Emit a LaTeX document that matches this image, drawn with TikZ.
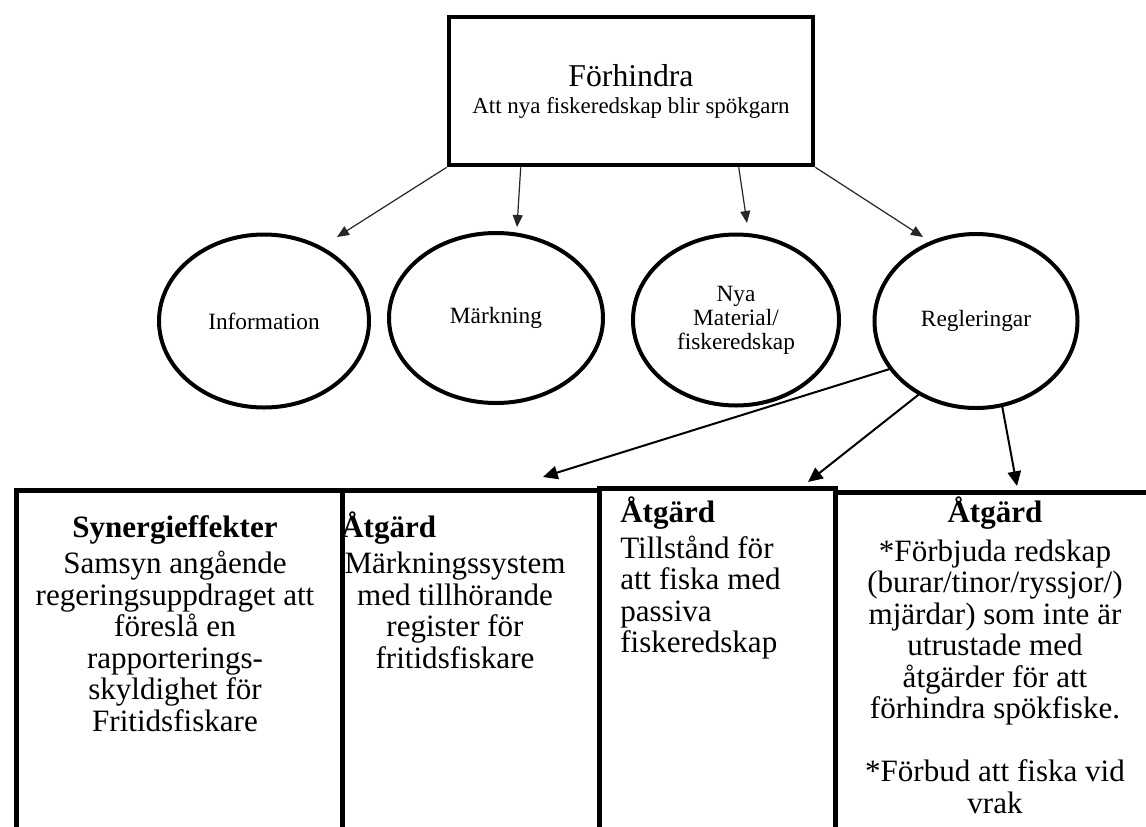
\documentclass[tikz,border=0pt]{standalone}
\usepackage{fontspec}
\setmainfont{Liberation Serif}
\usetikzlibrary{arrows.meta,shapes.geometric,calc}
\begin{document}
\begin{tikzpicture}[x=0.75pt,y=-0.75pt,
  topbox/.style={draw, line width=3.4pt, minimum width=273pt, minimum height=111pt,
    inner sep=0pt, align=center, font=\fontsize{17.2}{20.25}\selectfont},
  oval/.style={ellipse, draw, line width=3pt, inner sep=0pt, align=center,
    font=\fontsize{17.5}{18}\selectfont},
  panel/.style={draw, line width=3.75pt, anchor=north west, inner sep=0pt,
    minimum height=300pt},
  boxtitle/.style={font=\fontsize{23.3}{23.6}\selectfont\bfseries, inner sep=0pt},
  boxbody/.style={font=\fontsize{23.3}{23.6}\selectfont, inner sep=0pt},
  thinarrow/.style={-{Triangle[length=9pt,width=7.5pt]}, line width=0.9pt, draw=black!85},
  thickarrow/.style={-{Triangle[length=11pt,width=10pt]}, line width=1.5pt}
]
\useasboundingbox (0,0) rectangle (1146,826);
\clip (0,0) rectangle (1146,826);

% main goal
\node[topbox] (top) at (631,91)
  {{\fontsize{23.8}{20.25}\selectfont Förhindra}\\
   Att nya fiskeredskap blir spökgarn};

% four areas of action
\node[oval, minimum width=157.5pt, minimum height=129.75pt] (info) at (264,321) {Information};
\node[oval, minimum width=160.5pt, minimum height=127.5pt] (mark) at (496,318) {Märkning};
\node[oval, minimum width=154.5pt, minimum height=128.25pt] (nya) at (736,320)
  {Nya\\Material/\\fiskeredskap};
\node[oval, minimum width=152.25pt, minimum height=130.5pt] (reg) at (976,321) {Regleringar};

% measure panels along the bottom
\node[panel, minimum width=244.5pt] (p1) at (14,487.5) {};
\node[panel, minimum width=192.75pt] (p2) at (340,487.5) {};
\node[panel, minimum width=177pt] (p3) at (597,485.5) {};
\node[panel, minimum width=300pt] (p4) at (833,489.5) {};

% panel texts
\node[boxtitle, anchor=base] (p1t) at (175,537) {Synergieffekter};
\node[boxbody, align=center] (p1b) at (175,641.5)
  {Samsyn angående\\regeringsuppdraget att\\föreslå en\\rapporterings-\\skyldighet för\\Fritidsfiskare};

\node[boxtitle, anchor=base west] (p2t) at (341,537) {Åtgärd};
\node[boxbody, align=center] (p2b) at (455,610.5)
  {Märkningssystem\\med tillhörande\\register för\\fritidsfiskare};

\node[boxtitle, anchor=base west] (p3t) at (620,522) {Åtgärd};
\node[boxbody, align=left, anchor=west] (p3b) at (620,597.5)
  {Tillstånd för\\att fiska med\\passiva\\fiskeredskap};

\node[boxtitle, anchor=base] (p4t) at (995,522) {Åtgärd};
\node[boxbody, align=center] (p4b) at (995,676.5)
  {*Förbjuda redskap\\(burar/tinor/ryssjor/)\\mjärdar) som inte är\\utrustade med\\åtgärder för att\\förhindra spökfiske.\\[23.6pt]*Förbud att fiska vid\\vrak};

% arrow tips that stop short of their targets
\coordinate (t1) at (337,237);
\coordinate (t2) at (517,227);
\coordinate (t3) at (747,223);
\coordinate (t4) at (923,237);
\coordinate (u1) at (543,477);
\coordinate (u2) at (808,482);
\coordinate (u3) at (1017,486);

% connectors from the main goal
\draw[thinarrow] (top.south west) -- (t1);
\draw[thinarrow] ($(top.south west)+(74,0)$) -- (t2);
\draw[thinarrow] ($(top.south west)+(292,0)$) -- (t3);
\draw[thinarrow] (top.south east) -- (t4);

% connectors from Regleringar
\draw[thickarrow] (reg.209) -- (u1);
\draw[thickarrow] (reg.232) -- (u2);
\draw[thickarrow] (reg.287) -- (u3);
\end{tikzpicture}
\end{document}
